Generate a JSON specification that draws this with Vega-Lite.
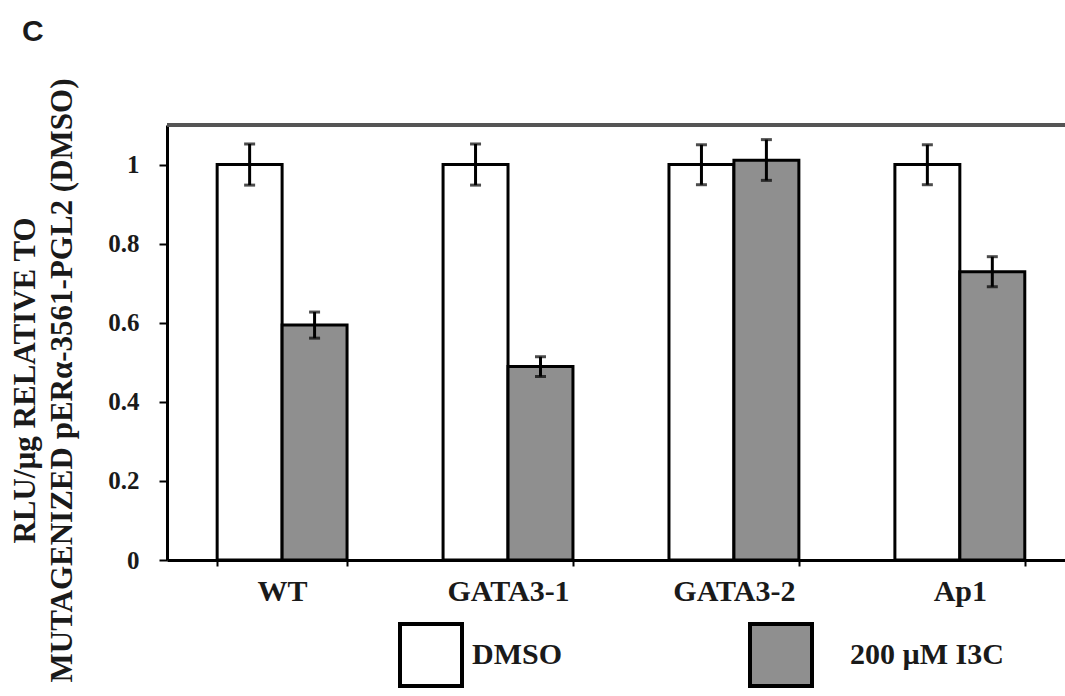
{
  "$schema": "https://vega.github.io/schema/vega-lite/v6.json",
  "width": 898,
  "height": 435,
  "autosize": "none",
  "padding": {"left": 167, "top": 125, "right": 0, "bottom": 136},
  "background": "white",
  "title": {
    "text": "C",
    "anchor": "start",
    "frame": "group",
    "font": "Liberation Sans",
    "fontWeight": "bold",
    "fontSize": 30,
    "color": "#1a1a1a",
    "baseline": "alphabetic",
    "dx": -145,
    "offset": 7
  },
  "data": {
    "values": [
      {"group": "WT", "treatment": "DMSO", "value": 1.0, "lo": 0.948, "hi": 1.052},
      {"group": "WT", "treatment": "200 µM I3C", "value": 0.594, "lo": 0.561, "hi": 0.627},
      {"group": "GATA3-1", "treatment": "DMSO", "value": 1.0, "lo": 0.948, "hi": 1.052},
      {"group": "GATA3-1", "treatment": "200 µM I3C", "value": 0.489, "lo": 0.464, "hi": 0.514},
      {"group": "GATA3-2", "treatment": "DMSO", "value": 1.0, "lo": 0.949, "hi": 1.05},
      {"group": "GATA3-2", "treatment": "200 µM I3C", "value": 1.011, "lo": 0.96, "hi": 1.063},
      {"group": "Ap1", "treatment": "DMSO", "value": 1.0, "lo": 0.949, "hi": 1.05},
      {"group": "Ap1", "treatment": "200 µM I3C", "value": 0.729, "lo": 0.691, "hi": 0.767}
    ]
  },
  "layer": [
    {
      "mark": {"type": "bar", "stroke": "black", "strokeWidth": 3},
      "encoding": {
        "x": {
          "field": "group",
          "type": "nominal",
          "sort": ["WT", "GATA3-1", "GATA3-2", "Ap1"],
          "scale": {"paddingInner": 0.425, "paddingOuter": 0.2, "align": 0.555},
          "axis": {
            "title": null,
            "labelAngle": 0,
            "tickBand": "extent",
            "tickSize": 6,
            "tickWidth": 2,
            "tickColor": "black",
            "domainColor": "black",
            "domainWidth": 3,
            "labelFont": "Liberation Serif",
            "labelFontWeight": "bold",
            "labelFontSize": 30,
            "labelColor": "#1a1a1a",
            "labelPadding": 10,
            "labelBaseline": "top",
            "encode": {
              "labels": {
                "update": {
                  "dx": {"signal": "datum.value == 'WT' ? -43 : datum.value == 'GATA3-1' ? -20 : 0"}
                }
              }
            }
          }
        },
        "xOffset": {
          "field": "treatment",
          "type": "nominal",
          "sort": ["DMSO", "200 µM I3C"],
          "scale": {"paddingInner": 0, "paddingOuter": 0}
        },
        "y": {
          "field": "value",
          "type": "quantitative",
          "scale": {"domain": [0, 1.1], "nice": false, "zero": true},
          "axis": {
            "title": ["RLU/µg RELATIVE TO", "MUTAGENIZED pERα-3561-PGL2 (DMSO)"],
            "titleFont": "Liberation Serif",
            "titleFontWeight": "bold",
            "titleFontSize": 31,
            "titleColor": "#1a1a1a",
            "titleLineHeight": 37,
            "titleAngle": -90,
            "titleAlign": "center",
            "titleBaseline": "alphabetic",
            "titleX": -133,
            "titleY": 255,
            "values": [0, 0.2, 0.4, 0.6, 0.8, 1],
            "format": "~g",
            "grid": false,
            "tickSize": 8,
            "tickWidth": 2,
            "tickColor": "black",
            "domainColor": "black",
            "domainWidth": 3,
            "labelFont": "Liberation Serif",
            "labelFontWeight": "bold",
            "labelFontSize": 25,
            "labelColor": "#1a1a1a",
            "labelPadding": 20
          }
        },
        "fill": {
          "field": "treatment",
          "type": "nominal",
          "sort": ["DMSO", "200 µM I3C"],
          "scale": {"domain": ["DMSO", "200 µM I3C"], "range": ["white", "#8f8f8f"]},
          "legend": {
            "title": null,
            "orient": "none",
            "direction": "horizontal",
            "columns": 2,
            "legendX": 231,
            "legendY": 497,
            "padding": 0,
            "symbolType": "square",
            "symbolSize": 3844,
            "symbolStrokeColor": "black",
            "symbolStrokeWidth": 4,
            "labelFont": "Liberation Serif",
            "labelFontWeight": "bold",
            "labelFontSize": 30,
            "labelColor": "#1a1a1a",
            "labelOffset": 8,
            "labelLimit": 400,
            "columnPadding": 180,
            "encode": {
              "labels": {
                "update": {
                  "dx": {"signal": "datum.value == 'DMSO' ? 0 : 28"}
                }
              }
            }
          }
        }
      }
    },
    {
      "mark": {"type": "rule", "color": "black", "strokeWidth": 3},
      "encoding": {
        "x": {"field": "group", "type": "nominal", "sort": ["WT", "GATA3-1", "GATA3-2", "Ap1"]},
        "xOffset": {"field": "treatment", "type": "nominal", "sort": ["DMSO", "200 µM I3C"]},
        "y": {"field": "lo", "type": "quantitative"},
        "y2": {"field": "hi"}
      }
    },
    {
      "mark": {"type": "tick", "color": "black", "thickness": 3, "size": 11},
      "encoding": {
        "x": {"field": "group", "type": "nominal", "sort": ["WT", "GATA3-1", "GATA3-2", "Ap1"]},
        "xOffset": {"field": "treatment", "type": "nominal", "sort": ["DMSO", "200 µM I3C"]},
        "y": {"field": "lo", "type": "quantitative"}
      }
    },
    {
      "mark": {"type": "tick", "color": "black", "thickness": 3, "size": 11},
      "encoding": {
        "x": {"field": "group", "type": "nominal", "sort": ["WT", "GATA3-1", "GATA3-2", "Ap1"]},
        "xOffset": {"field": "treatment", "type": "nominal", "sort": ["DMSO", "200 µM I3C"]},
        "y": {"field": "hi", "type": "quantitative"}
      }
    },
    {
      "mark": {"type": "rule", "color": "#555555", "strokeWidth": 3},
      "encoding": {"y": {"datum": 1.1}}
    }
  ],
  "config": {"view": {"stroke": null}}
}
